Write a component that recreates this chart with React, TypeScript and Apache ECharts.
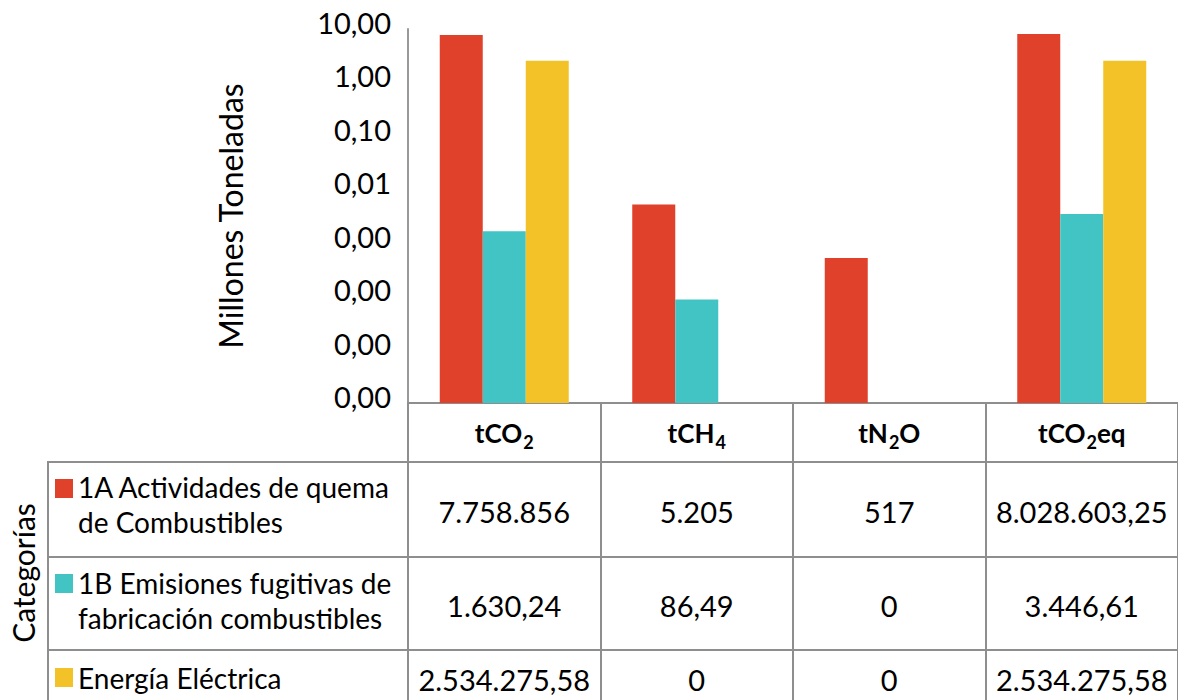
import React, { useEffect, useRef } from "react";
import * as echarts from "echarts";

// Column categories of the chart / data table
const categories = ["tCO2", "tCH4", "tN2O", "tCO2eq"];
// Header labels with subscripts (rich text)
const headerLabels = ["{b|tCO}{s|2}", "{b|tCH}{s|4}", "{b|tN}{s|2}{b|O}", "{b|tCO}{s|2}{b|eq}"];

const seriesNames = [
  "1A Actividades de quema de Combustibles",
  "1B Emisiones fugitivas de fabricación combustibles",
  "Energía Eléctrica",
];
const legendLines = [
  ["1A Actividades de quema", "de Combustibles"],
  ["1B Emisiones fugitivas de", "fabricación combustibles"],
  ["Energía Eléctrica"],
];
const colors = ["#E0412A", "#42C3C4", "#F3C229"];

// Values in millions of tonnes (null = 0, not drawable on a log axis)
const actividades = [7.758856, 0.005205, 0.000517, 8.02860325];
const fugitivas = [0.00163024, 0.00008649, null, 0.00344661];
const energia = [2.53427558, null, null, 2.53427558];
const seriesValues = [actividades, fugitivas, energia];

// Data table text (tonnes)
const tableRow1 = ["7.758.856", "5.205", "517", "8.028.603,25"];
const tableRow2 = ["1.630,24", "86,49", "0", "3.446,61"];
const tableRow3 = ["2.534.275,58", "0", "0", "2.534.275,58"];
const tableRows = [tableRow1, tableRow2, tableRow3];

const FONT = "Lato, 'Open Sans', sans-serif";
const GRID_COLOR = "#8E8E8E";

export default function App() {
  const ref = useRef<HTMLDivElement>(null);

  useEffect(() => {
    if (!ref.current) return;
    const chart = echarts.init(ref.current, null, { renderer: "svg" });

    const option: any = {
      animation: false,
      textStyle: { fontFamily: FONT },
      grid: { left: 408, top: 29, width: 770, height: 374, containLabel: false },
      xAxis: {
        type: "category",
        data: categories,
        axisLine: { show: true, lineStyle: { color: GRID_COLOR, width: 2 } },
        axisTick: { show: true, length: 297, interval: 0, lineStyle: { color: GRID_COLOR, width: 2 } },
        axisLabel: {
          show: true,
          interval: 0,
          margin: 18,
          formatter: (_v: string, i: number) => headerLabels[i],
          rich: {
            b: { fontFamily: FONT, fontWeight: "bold", fontSize: 26, color: "#000", lineHeight: 30, verticalAlign: "bottom", padding: [0, 0, 5, 0] },
            s: { fontFamily: FONT, fontWeight: "bold", fontSize: 18, color: "#000", lineHeight: 30, verticalAlign: "bottom", padding: [0, 0, 0, 1] },
          },
        },
        splitLine: { show: false },
      },
      yAxis: {
        type: "log",
        logBase: 10,
        min: 0.000001,
        max: 10,
        startValue: 0.000001,
        interval: 1,
        name: "Millones Toneladas",
        nameLocation: "middle",
        nameGap: 162,
        nameRotate: 90,
        nameTextStyle: { fontFamily: FONT, fontSize: 32, color: "#000" },
        axisLine: { show: true, lineStyle: { color: "#999", width: 2 } },
        axisTick: { show: false },
        splitLine: { show: false },
        axisLabel: {
          margin: 17,
          fontSize: 29,
          color: "#000",
          fontFamily: FONT,
          verticalAlign: "bottom",
          padding: [0, 0, -8, 0],
          formatter: (v: number) => v.toFixed(2).replace(".", ","),
        },
      },
      series: seriesNames.map((name, i) => ({
        name,
        type: "bar",
        data: seriesValues[i].map((v) => (v === null ? "-" : v)),
        barWidth: 43,
        barGap: "0%",
        itemStyle: { color: colors[i] },
      })),
    };
    chart.setOption(option);

    // Data table drawn below the plot
    const colX = categories.map((c) => chart.convertToPixel({ xAxisIndex: 0 }, c) as number);
    const rowY = [511, 605, 679];
    const legendY = [[487, 522], [583, 618], [678]];
    const squareY = [479, 574, 668];
    const graphic: any[] = [];
    [462, 557, 650].forEach((y) => {
      graphic.push({ type: "line", shape: { x1: 47, y1: y, x2: 1178, y2: y }, style: { stroke: GRID_COLOR, lineWidth: 2 } });
    });
    graphic.push({ type: "line", shape: { x1: 48, y1: 461, x2: 48, y2: 700 }, style: { stroke: GRID_COLOR, lineWidth: 2 } });
    tableRows.forEach((row, r) => {
      row.forEach((txt, c) => {
        graphic.push({
          type: "text",
          x: colX[c],
          y: rowY[r],
          style: { text: txt, fontFamily: FONT, fontSize: 29, fill: "#000", align: "center", verticalAlign: "middle" },
        });
      });
    });
    legendLines.forEach((lines, r) => {
      graphic.push({ type: "rect", shape: { x: 55, y: squareY[r], width: 18, height: 19 }, style: { fill: colors[r] } });
      lines.forEach((ln, k) => {
        graphic.push({
          type: "text",
          x: 78,
          y: legendY[r][k],
          style: { text: ln, fontFamily: FONT, fontSize: 28, fill: "#000", align: "left", verticalAlign: "middle" },
        });
      });
    });
    graphic.push({
      type: "text",
      x: 23,
      y: 573,
      rotation: Math.PI / 2,
      style: { text: "Categorías", fontFamily: FONT, fontSize: 30, fill: "#000", align: "center", verticalAlign: "middle" },
    });
    chart.setOption({ graphic });

    return () => chart.dispose();
  }, []);

  return (
    <div
      ref={ref}
      style={{ position: "fixed", left: 0, top: 0, width: 1178, height: 700, background: "#fff" }}
    />
  );
}
